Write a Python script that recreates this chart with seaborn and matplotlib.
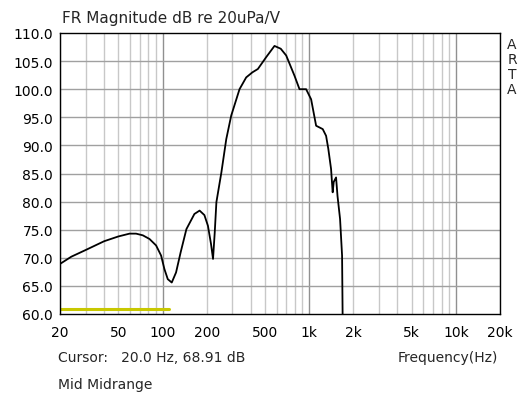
import matplotlib
matplotlib.use("Agg")
import matplotlib.pyplot as plt
import seaborn as sns
import pandas as pd
from matplotlib.ticker import FixedLocator, NullFormatter

sns.set_style("white")
plt.rcParams['font.family'] = ['DejaVu Sans']

freq_hz = [20, 23.9, 30, 40, 50, 59.6, 66, 73.4, 81.5, 90.4, 97.8, 103, 108.6, 115.6, 123.7, 133, 145.5, 165, 179, 193, 204, 214, 221, 227, 233,
           252, 272, 294, 335, 372, 410, 447, 509, 580, 640, 697, 794, 859, 953, 1031, 1115, 1237, 1304, 1350,
           1410, 1446, 1470, 1525, 1560, 1624, 1676, 1690, 1700]
magnitude_db = [68.91, 70.2, 71.4, 72.95, 73.8, 74.3, 74.3, 74.0, 73.35, 72.2, 70.4, 68.0, 66.2, 65.6, 67.4, 71.0, 75.1, 77.8, 78.4, 77.6, 75.7, 72.5, 69.8, 74.5, 79.9,
                85.2, 91.1, 95.3, 100.0, 102.1, 103.0, 103.6, 105.7, 107.7, 107.2, 106.0, 102.4, 100.0, 100.0, 98.2, 93.5, 92.9, 91.7, 89.4,
                85.8, 81.65, 83.5, 84.3, 81.0, 76.9, 70.4, 60.0, 55.0]

coh_freq = [20, 110]
coh_db = [60.9, 60.9]

x_ticks = [20, 50, 100, 200, 500, 1000, 2000, 5000, 10000, 20000]
x_tick_labels = ["20", "50", "100", "200", "500", "1k", "2k", "5k", "10k", "20k"]
y_ticks = [60, 65, 70, 75, 80, 85, 90, 95, 100, 105, 110]

df = pd.DataFrame({"f": freq_hz, "db": magnitude_db})

fig = plt.figure(figsize=(5.25, 4.06), dpi=100)
ax = fig.add_axes([60/525, 1-315/406, 440/525, 281/406])

# grid
minor = [f * m for f in (10, 100, 1000, 10000) for m in range(2, 10) if 20 <= f * m <= 20000]
for f in minor:
    ax.axvline(f, color="#c8c8c8", lw=1.0, zorder=0)
for f in (100, 1000, 10000):
    ax.axvline(f, color="#909090", lw=1.0, zorder=0)
for y in y_ticks[1:-1]:
    ax.axhline(y, color="#a0a0a0", lw=1.0, zorder=0)

sns.lineplot(data=df, x="f", y="db", ax=ax, color="black", lw=1.3, sort=False, zorder=3)
sns.lineplot(x=coh_freq, y=coh_db, ax=ax, color="#c8c800", lw=2.2, zorder=2)

ax.set_xscale("log")
ax.set_xlim(20, 20000)
ax.set_ylim(60, 110)
ax.xaxis.set_major_locator(FixedLocator(x_ticks))
ax.xaxis.set_minor_formatter(NullFormatter())
ax.set_xticks(x_ticks)
ax.set_xticklabels(x_tick_labels)
ax.set_yticks(y_ticks)
ax.set_yticklabels([f"{v:.1f}" for v in y_ticks])
ax.tick_params(axis="both", which="both", length=0, labelsize=10, colors="black", pad=5)
ax.tick_params(axis="x", pad=8)
ax.set_xlabel("")
ax.set_ylabel("")
for s in ax.spines.values():
    s.set_color("black")
    s.set_linewidth(1.0)

fig.text(62/525, 1-18/406, "FR Magnitude dB re 20uPa/V", fontsize=11, va="center", ha="left")
for i, ch in enumerate("ARTA"):
    fig.text(512/525, 1-(45 + i*15)/406, ch, fontsize=10, va="center", ha="center")
fig.text(58/525, 1-358/406, "Cursor:   20.0 Hz, 68.91 dB", fontsize=10, va="center", ha="left")
fig.text(498/525, 1-358/406, "Frequency(Hz)", fontsize=10, va="center", ha="right")
fig.text(58/525, 1-385/406, "Mid Midrange", fontsize=10, va="center", ha="left")

fig.savefig("out.png", dpi=100)
